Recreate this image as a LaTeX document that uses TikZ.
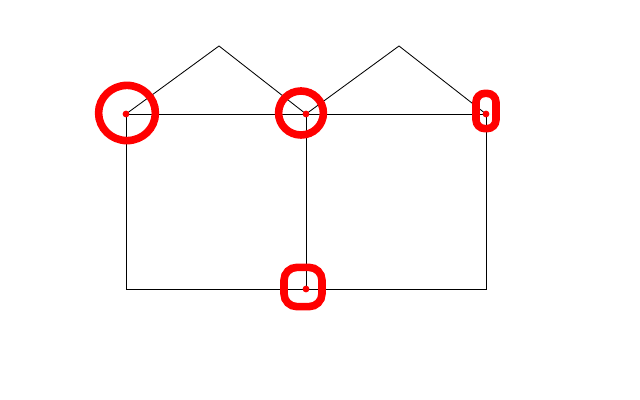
\documentclass[tikz,border=0pt]{standalone}
\usetikzlibrary{shapes.geometric, positioning}
\definecolor{cred}{HTML}{FF0000}
\tikzset{
  every picture/.style={line width=0.6pt},
  edge/.style={draw=black, line width=0.6pt},
  dot/.style={circle, fill=cred, inner sep=0pt, minimum size=0.17cm},
  ring/.style={draw=cred, line width=0.19cm, ellipse, inner sep=0pt},
  blob/.style={draw=cred, line width=0.19cm, rectangle, rounded corners=#1, inner sep=0pt},
  blob/.default=0.3cm,
}

\begin{document}
\begin{tikzpicture}[x=0.025cm, y=-0.025cm]
  \useasboundingbox (0,0) rectangle (640,400);
  % corners of the frame
  \coordinate (tl) at (126,114);
  \coordinate (tm) at (306,114);
  \coordinate (tr) at (486,114);
  \coordinate (bl) at (126,289);
  \coordinate (bm) at (306,289);
  \coordinate (br) at (486,289);
  \coordinate (peakl) at (219,46);
  \coordinate (peakr) at (399,46);
  % frame and roofs
  \draw[edge] (tl) -- (tr) -- (br) -- (bl) -- cycle;
  \draw[edge] (tm) -- (bm);
  \draw[edge] (tl) -- (peakl) -- (tm) -- (peakr) -- (tr);
  % marked points
  \node[dot] (dtl) at (tl) {};
  \node[dot] (dtm) at (tm) {};
  \node[dot] (dtr) at (tr) {};
  \node[dot] (dbm) at (bm) {};
  % hand drawn rings
  \node[ring, minimum width=1.42cm, minimum height=1.38cm] (rtl) at (127,113) {};
  \node[ring, minimum width=1.12cm, minimum height=1.1cm] (rtm) at (301,113) {};
  \node[blob=0.22cm, minimum width=0.5cm, minimum height=0.88cm] (rtr) at (486,111) {};
  \node[blob=0.32cm, minimum width=0.95cm, minimum height=0.98cm] (rbm) at (303,287) {};
\end{tikzpicture}
\end{document}
